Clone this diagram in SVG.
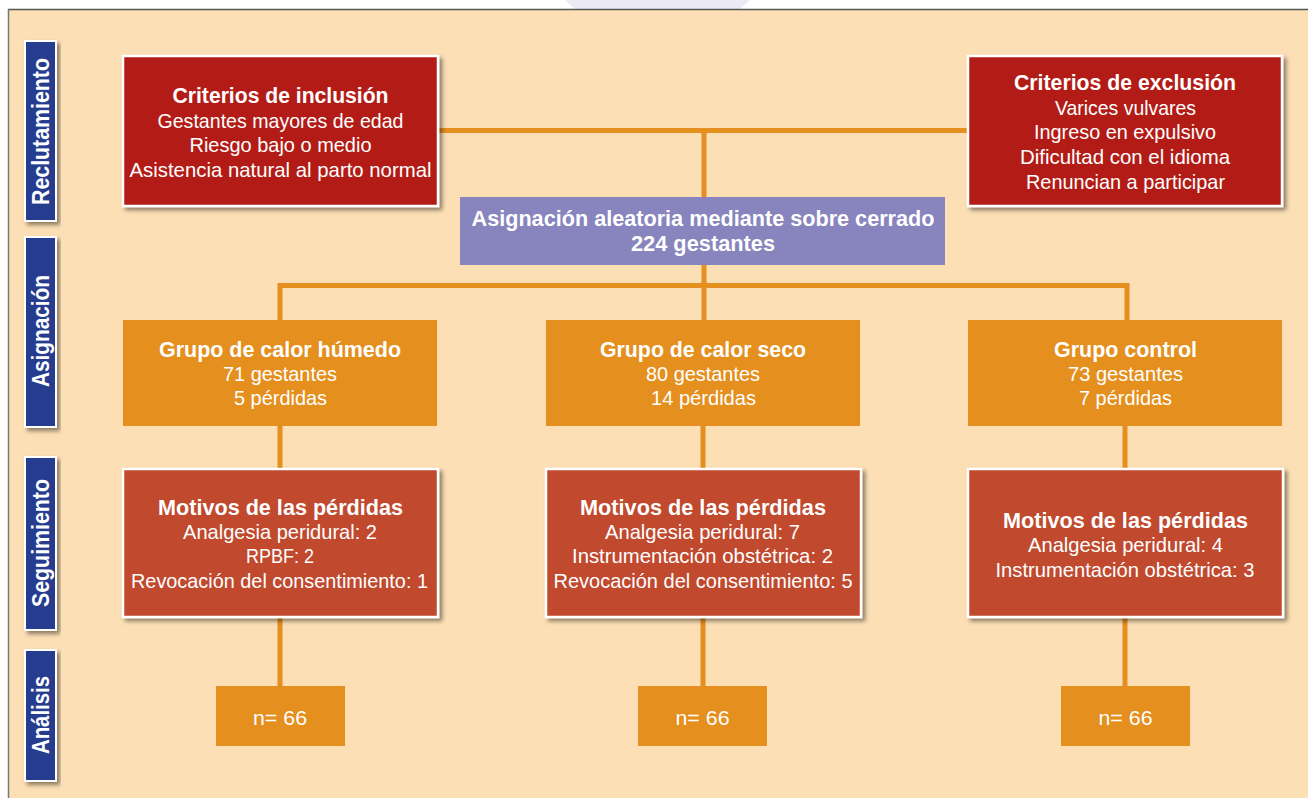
<svg xmlns="http://www.w3.org/2000/svg" width="1308" height="798" viewBox="0 0 1308 798">
<defs>
<filter id="sh" x="-10%" y="-10%" width="125%" height="130%">
<feDropShadow dx="3" dy="3" stdDeviation="2" flood-color="#000" flood-opacity="0.45"/>
</filter>
<style>
.t{font-family:"Liberation Sans",Arial,sans-serif;fill:#fff;text-anchor:middle;font-size:21px}
.b{font-weight:bold;font-size:21.5px}
.side{font-family:"Liberation Sans",Arial,sans-serif;fill:#fff;text-anchor:middle;font-size:24px;font-weight:bold}
.lab{fill:#253E8F;stroke:#fff;stroke-width:2;filter:url(#sh)}
.red{fill:#B31B18;stroke:#fff;stroke-width:2.5;filter:url(#sh)}
.mot{fill:#C04A2F;stroke:#fff;stroke-width:2.5;filter:url(#sh)}
.org{fill:#E48F1E}
.pur{fill:#8884BE}
.ln{stroke:#E48F1E;stroke-width:5;fill:none}
</style>
</defs>
<rect x="0" y="0" width="1308" height="798" fill="#fff"/>
<polygon points="565,0 750,0 740,9 575,9" fill="#ECEAF5"/>
<rect x="8" y="9" width="1300" height="789" fill="#FCDFB5"/>
<line x1="8" y1="9.5" x2="1308" y2="9.5" stroke="#555" stroke-width="1.5"/>
<line x1="8.5" y1="9" x2="8.5" y2="798" stroke="#777" stroke-width="1.5"/>

<g id="side-labels">
<g id="lab-reclutamiento"><rect class="lab" x="25" y="41" width="31" height="180"/><text class="side" transform="translate(49,131.5) rotate(-90)" textLength="147" lengthAdjust="spacingAndGlyphs">Reclutamiento</text></g>
<g id="lab-asignacion"><rect class="lab" x="25" y="237" width="31" height="190"/><text class="side" transform="translate(49,331) rotate(-90)" textLength="112" lengthAdjust="spacingAndGlyphs">Asignación</text></g>
<g id="lab-seguimiento"><rect class="lab" x="25" y="457" width="31" height="173"/><text class="side" transform="translate(49,543) rotate(-90)" textLength="128" lengthAdjust="spacingAndGlyphs">Seguimiento</text></g>
<g id="lab-analisis"><rect class="lab" x="25" y="650" width="31" height="131"/><text class="side" transform="translate(49,715) rotate(-90)" textLength="78" lengthAdjust="spacingAndGlyphs">Análisis</text></g>
</g>

<g id="connectors">
<line class="ln" x1="438" y1="130.5" x2="968" y2="130.5"/>
<line class="ln" x1="704" y1="130" x2="704" y2="197"/>
<line class="ln" x1="704" y1="265" x2="704" y2="320"/>
<polyline class="ln" points="280,320 280,285.5 1127,285.5 1127,320"/>
<line class="ln" x1="280" y1="426" x2="280" y2="469"/>
<line class="ln" x1="703" y1="426" x2="703" y2="469"/>
<line class="ln" x1="1125" y1="426" x2="1125" y2="469"/>
<line class="ln" x1="280" y1="617" x2="280" y2="686"/>
<line class="ln" x1="703" y1="617" x2="703" y2="686"/>
<line class="ln" x1="1125" y1="617" x2="1125" y2="686"/>
</g>

<g id="inclusion">
<rect class="red" x="123" y="56" width="315" height="150"/>
<text class="t b" x="280.5" y="103" textLength="216" lengthAdjust="spacingAndGlyphs">Criterios de inclusión</text>
<text class="t" x="280.5" y="127.5" textLength="246" lengthAdjust="spacingAndGlyphs">Gestantes mayores de edad</text>
<text class="t" x="280.5" y="152" textLength="182" lengthAdjust="spacingAndGlyphs">Riesgo bajo o medio</text>
<text class="t" x="280.5" y="176.5" textLength="302" lengthAdjust="spacingAndGlyphs">Asistencia natural al parto normal</text>
</g>

<g id="exclusion">
<rect class="red" x="968" y="56" width="314" height="150"/>
<text class="t b" x="1125" y="90" textLength="222" lengthAdjust="spacingAndGlyphs">Criterios de exclusión</text>
<text class="t" x="1125.5" y="114.5" textLength="141" lengthAdjust="spacingAndGlyphs">Varices vulvares</text>
<text class="t" x="1125" y="139" textLength="182" lengthAdjust="spacingAndGlyphs">Ingreso en expulsivo</text>
<text class="t" x="1125" y="164" textLength="210" lengthAdjust="spacingAndGlyphs">Dificultad con el idioma</text>
<text class="t" x="1125.5" y="189" textLength="199" lengthAdjust="spacingAndGlyphs">Renuncian a participar</text>
</g>

<g id="asignacion">
<rect class="pur" x="460" y="197" width="485" height="68"/>
<text class="t b" x="703" y="226" textLength="463" lengthAdjust="spacingAndGlyphs">Asignación aleatoria mediante sobre cerrado</text>
<text class="t b" x="703" y="251" textLength="144" lengthAdjust="spacingAndGlyphs">224 gestantes</text>
</g>

<g id="grupo-humedo">
<rect class="org" x="123" y="320" width="314" height="106"/>
<text class="t b" x="280" y="356.5" textLength="242" lengthAdjust="spacingAndGlyphs">Grupo de calor húmedo</text>
<text class="t" x="280" y="381" textLength="114" lengthAdjust="spacingAndGlyphs">71 gestantes</text>
<text class="t" x="280.5" y="405" textLength="93" lengthAdjust="spacingAndGlyphs">5 pérdidas</text>
</g>
<g id="grupo-seco">
<rect class="org" x="546" y="320" width="314" height="106"/>
<text class="t b" x="703" y="356.5" textLength="206" lengthAdjust="spacingAndGlyphs">Grupo de calor seco</text>
<text class="t" x="703" y="381" textLength="114" lengthAdjust="spacingAndGlyphs">80 gestantes</text>
<text class="t" x="703.5" y="405" textLength="105" lengthAdjust="spacingAndGlyphs">14 pérdidas</text>
</g>
<g id="grupo-control">
<rect class="org" x="968" y="320" width="314" height="106"/>
<text class="t b" x="1125.5" y="356.5" textLength="143" lengthAdjust="spacingAndGlyphs">Grupo control</text>
<text class="t" x="1125.5" y="381" textLength="115" lengthAdjust="spacingAndGlyphs">73 gestantes</text>
<text class="t" x="1125.5" y="405" textLength="93" lengthAdjust="spacingAndGlyphs">7 pérdidas</text>
</g>

<g id="motivos-humedo">
<rect class="mot" x="123" y="469" width="315" height="148"/>
<text class="t b" x="280.5" y="514.5" textLength="245" lengthAdjust="spacingAndGlyphs">Motivos de las pérdidas</text>
<text class="t" x="280" y="538.5" textLength="194" lengthAdjust="spacingAndGlyphs">Analgesia peridural: 2</text>
<text class="t" x="280" y="563" textLength="68" lengthAdjust="spacingAndGlyphs">RPBF: 2</text>
<text class="t" x="279.5" y="587.5" textLength="297" lengthAdjust="spacingAndGlyphs">Revocación del consentimiento: 1</text>
</g>
<g id="motivos-seco">
<rect class="mot" x="546" y="469" width="315" height="148"/>
<text class="t b" x="703" y="514.5" textLength="246" lengthAdjust="spacingAndGlyphs">Motivos de las pérdidas</text>
<text class="t" x="702.5" y="538.5" textLength="195" lengthAdjust="spacingAndGlyphs">Analgesia peridural: 7</text>
<text class="t" x="702.5" y="563" textLength="261" lengthAdjust="spacingAndGlyphs">Instrumentación obstétrica: 2</text>
<text class="t" x="703" y="587.5" textLength="299" lengthAdjust="spacingAndGlyphs">Revocación del consentimiento: 5</text>
</g>
<g id="motivos-control">
<rect class="mot" x="968" y="469" width="315" height="148"/>
<text class="t b" x="1125.5" y="527.5" textLength="245" lengthAdjust="spacingAndGlyphs">Motivos de las pérdidas</text>
<text class="t" x="1125.5" y="552" textLength="195" lengthAdjust="spacingAndGlyphs">Analgesia peridural: 4</text>
<text class="t" x="1125" y="576.5" textLength="259" lengthAdjust="spacingAndGlyphs">Instrumentación obstétrica: 3</text>
</g>

<g id="n-humedo"><rect class="org" x="216" y="686" width="129" height="60"/><text class="t" x="280" y="724.5" textLength="54" lengthAdjust="spacingAndGlyphs">n= 66</text></g>
<g id="n-seco"><rect class="org" x="638" y="686" width="129" height="60"/><text class="t" x="702.5" y="724.5" textLength="54" lengthAdjust="spacingAndGlyphs">n= 66</text></g>
<g id="n-control"><rect class="org" x="1061" y="686" width="129" height="60"/><text class="t" x="1125.5" y="724.5" textLength="54" lengthAdjust="spacingAndGlyphs">n= 66</text></g>
</svg>
